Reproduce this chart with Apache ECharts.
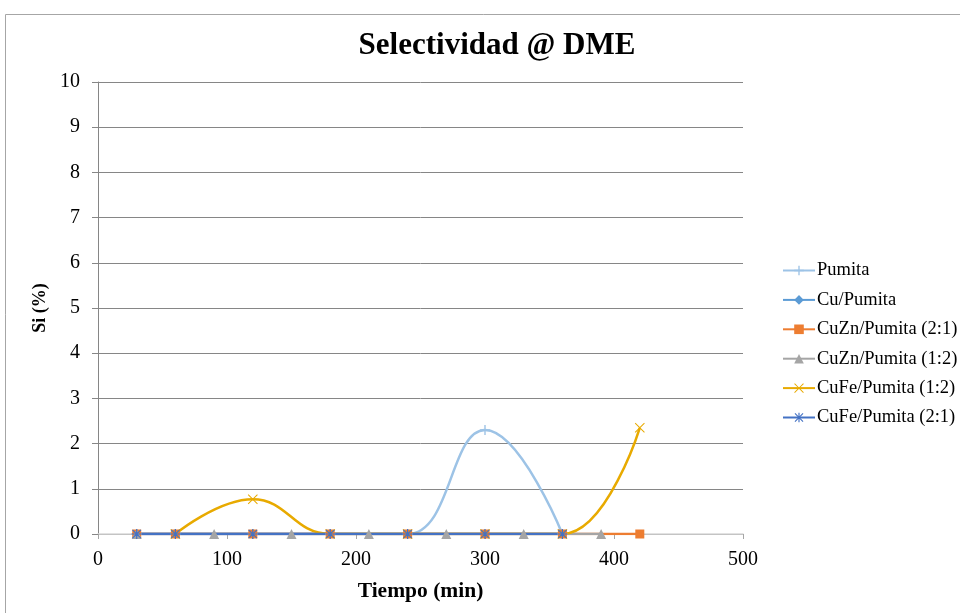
<!DOCTYPE html>
<html>
<head>
<meta charset="utf-8">
<script src="https://cdn.jsdelivr.net/npm/echarts@6/dist/echarts.min.js"></script>
<style>
  html, body { margin: 0; padding: 0; background: #fff; }
  #chart { width: 960px; height: 613px; }
</style>
</head>
<body>
<div id="chart"></div>
<script>
// Time (min) and selectivity to DME (%) for each catalyst
const seriesNames = [
  'Pumita',
  'Cu/Pumita',
  'CuZn/Pumita (2:1)',
  'CuZn/Pumita (1:2)',
  'CuFe/Pumita (1:2)',
  'CuFe/Pumita (2:1)'
];
const tPumita   = [30, 60, 120, 180, 240, 300, 360];
const sPumita   = [0, 0, 0, 0, 0, 2.3, 0];
const tCu       = [30, 60, 120, 180, 240, 300, 360];
const sCu       = [0, 0, 0, 0, 0, 0, 0];
const tCuZn21   = [30, 60, 120, 180, 240, 300, 360, 420];
const sCuZn21   = [0, 0, 0, 0, 0, 0, 0, 0];
const tCuZn12   = [30, 90, 150, 210, 270, 330, 390];
const sCuZn12   = [0, 0, 0, 0, 0, 0, 0];
const tCuFe12   = [60, 120, 180, 240, 300, 360, 420];
const sCuFe12   = [0, 0.77, 0, 0, 0, 0, 2.35];
const tCuFe21   = [30, 60, 120, 180, 240, 300, 360];
const sCuFe21   = [0, 0, 0, 0, 0, 0, 0];
const xTicks = [0, 100, 200, 300, 400, 500];
const yTicks = [0, 1, 2, 3, 4, 5, 6, 7, 8, 9, 10];

const pair = (xs, ys) => xs.map((x, i) => [x, ys[i]]);

const serif = '"Liberation Serif", "Times New Roman", serif';
const plusPath  = 'path://M4.3,0 L5.7,0 L5.7,4.3 L10,4.3 L10,5.7 L5.7,5.7 L5.7,10 L4.3,10 L4.3,5.7 L0,5.7 L0,4.3 L4.3,4.3 Z';
const crossPath = 'path://M0.7,0 L5,4.3 L9.3,0 L10,0.7 L5.7,5 L10,9.3 L9.3,10 L5,5.7 L0.7,10 L0,9.3 L4.3,5 L0,0.7 Z';
const starPath  = 'path://M4.4,0 L5.6,0 L5.6,4.4 L10,4.4 L10,5.6 L5.6,5.6 L5.6,10 L4.4,10 L4.4,5.6 L0,5.6 L0,4.4 L4.4,4.4 Z M1.2,0.4 L5,4.2 L8.8,0.4 L9.6,1.2 L5.8,5 L9.6,8.8 L8.8,9.6 L5,5.8 L1.2,9.6 L0.4,8.8 L4.2,5 L0.4,1.2 Z';

function lineSeries(name, data, color, symbol, size) {
  return {
    name: name,
    type: 'line',
    data: data,
    smooth: 0.45,
    symbol: symbol,
    symbolSize: size,
    showAllSymbol: true,
    lineStyle: { color: color, width: 2.5 },
    itemStyle: { color: color },
    emphasis: { disabled: true },
    animation: false
  };
}

const chart = echarts.init(document.getElementById('chart'), null, { renderer: 'canvas' });
chart.setOption({
  backgroundColor: '#ffffff',
  animation: false,
  title: {
    text: 'Selectividad @ DME',
    left: 492,
    textAlign: 'center',
    top: 25,
    textStyle: { fontFamily: serif, fontSize: 31, fontWeight: 'bold', color: '#000' }
  },
  graphic: [{
    type: 'rect',
    shape: { x: 5.5, y: 14.5, width: 980, height: 620 },
    style: { fill: 'none', stroke: '#a6a6a6', lineWidth: 1 },
    silent: true,
    z: -1
  }],
  legend: {
    orient: 'vertical',
    left: 777,
    top: 256,
    itemWidth: 32,
    itemHeight: 12,
    itemGap: 10.4,
    textStyle: { fontFamily: serif, fontSize: 18.5, lineHeight: 18, color: '#000', padding: [0, 0, 0, -3] },
    data: seriesNames
  },
  grid: { left: 98, right: 217, top: 82, bottom: 79, containLabel: false },
  xAxis: {
    type: 'value',
    min: xTicks[0],
    max: xTicks[xTicks.length - 1],
    interval: 100,
    name: 'Tiempo (min)',
    nameLocation: 'middle',
    nameGap: 46,
    nameTextStyle: { fontFamily: serif, fontSize: 21.5, fontWeight: 'bold', color: '#000' },
    axisLine: { show: true, lineStyle: { color: '#d9d9d9', width: 1.5 } },
    axisTick: { show: true, length: 5, lineStyle: { color: '#a6a6a6' } },
    axisLabel: { fontFamily: serif, fontSize: 20, color: '#000', margin: 16 },
    splitLine: { show: false }
  },
  yAxis: {
    type: 'value',
    min: yTicks[0],
    max: yTicks[yTicks.length - 1],
    interval: 1,
    name: 'Si (%)',
    nameLocation: 'middle',
    nameGap: 40,
    nameTextStyle: { fontFamily: serif, fontSize: 18, fontWeight: 'bold', color: '#000' },
    axisLine: { show: true, lineStyle: { color: '#868686', width: 1 } },
    axisTick: { show: true, length: 6, lineStyle: { color: '#868686' } },
    axisLabel: { fontFamily: serif, fontSize: 20, color: '#000', margin: 18 },
    splitLine: { show: true, lineStyle: { color: '#868686', width: 1 } }
  },
  series: [
    lineSeries('Pumita', pair(tPumita, sPumita), '#9dc3e6', plusPath, 10),
    lineSeries('Cu/Pumita', pair(tCu, sCu), '#5b9bd5', 'diamond', 9),
    lineSeries('CuZn/Pumita (2:1)', pair(tCuZn21, sCuZn21), '#ed7d31', 'rect', 9),
    lineSeries('CuZn/Pumita (1:2)', pair(tCuZn12, sCuZn12), '#a5a5a5', 'triangle', 10),
    lineSeries('CuFe/Pumita (1:2)', pair(tCuFe12, sCuFe12), '#e8aa00', crossPath, 10),
    lineSeries('CuFe/Pumita (2:1)', pair(tCuFe21, sCuFe21), '#4472c4', starPath, 10)
  ]
});
</script>
</body>
</html>
